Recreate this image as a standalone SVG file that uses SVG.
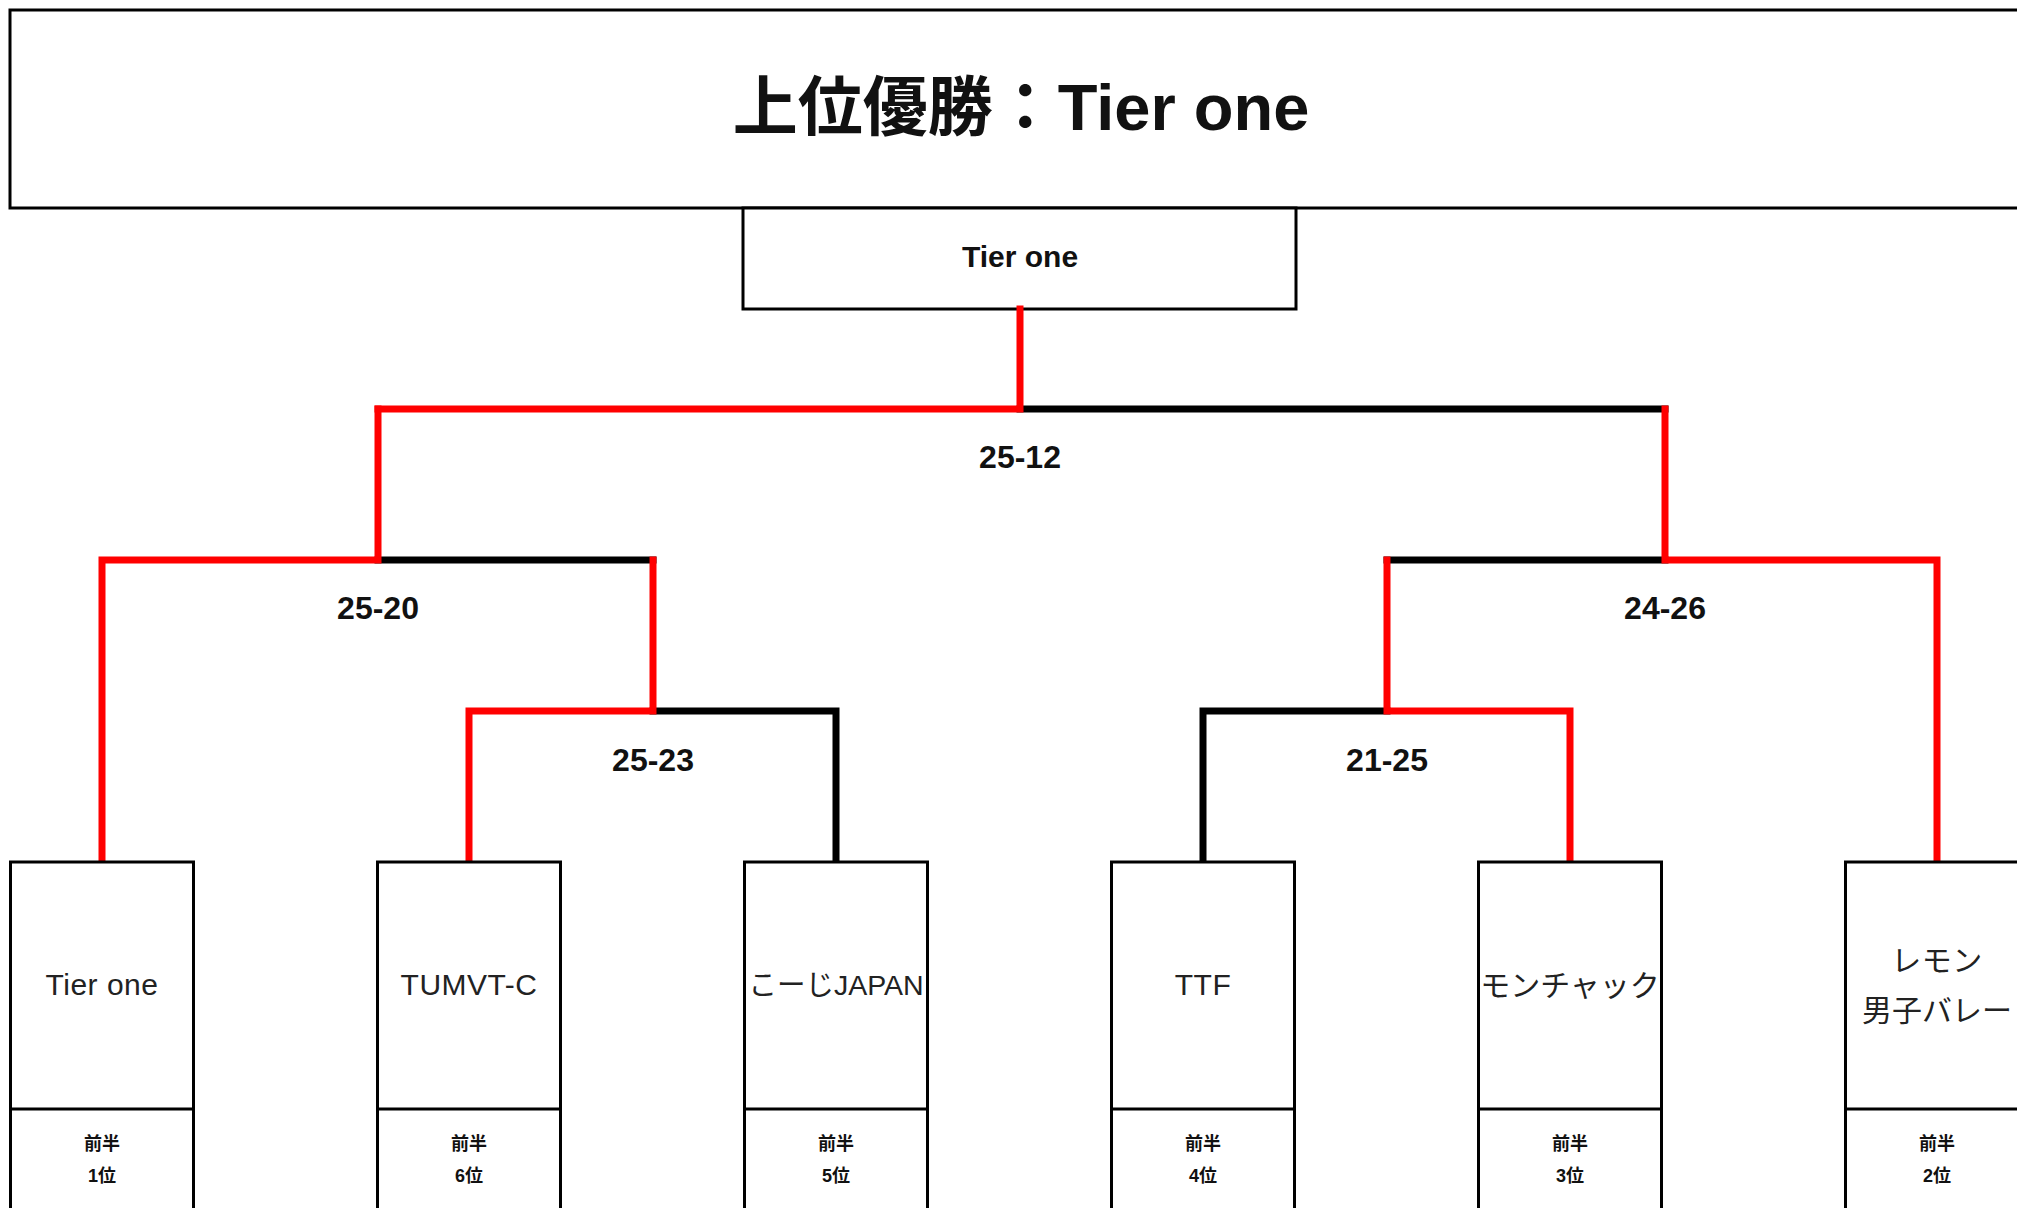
<svg xmlns="http://www.w3.org/2000/svg" width="2017" height="1208" viewBox="0 0 2017 1208">
<style>
.box{fill:#fff;stroke:#000;stroke-width:3}
.t{font-family:"Liberation Sans","Noto Sans CJK JP",sans-serif;text-anchor:middle;fill:#111}
.title{font-size:65px;font-weight:bold}
.win{font-size:30px;font-weight:bold}
.score{font-size:32px;font-weight:bold}
.team{font-size:30px;fill:#222;letter-spacing:0.5px}
.rank{font-size:18px;font-weight:bold}
.r{stroke:#ff0000;stroke-width:7;fill:none;stroke-linecap:square}
.k{stroke:#000;stroke-width:7;fill:none;stroke-linecap:square}
</style>
<rect width="2017" height="1208" fill="#fff"/>
<g id="title">
<rect class="box" x="10" y="10" width="2019" height="198"/>
<text class="t title" x="1021" y="130">上位優勝：Tier one</text>
</g>
<g id="champion">
<rect class="box" x="743" y="208" width="553" height="101"/>
<text class="t win" x="1020" y="267">Tier one</text>
</g>
<g id="connectors">
<path class="k" d="M1020 409H1665"/>
<path class="k" d="M378 560H653"/>
<path class="k" d="M1387 560H1665"/>
<path class="k" d="M653 711H836V862"/>
<path class="k" d="M1387 711H1203V862"/>
<path class="r" d="M1020 309V409H378"/>
<path class="r" d="M378 409V560H102V862"/>
<path class="r" d="M1665 409V560H1937V862"/>
<path class="r" d="M653 560V711H469V862"/>
<path class="r" d="M1387 560V711H1570V862"/>
</g>
<g id="scores">
<text class="t score" x="1020" y="468">25-12</text>
<text class="t score" x="378" y="619">25-20</text>
<text class="t score" x="1665" y="619">24-26</text>
<text class="t score" x="653" y="771">25-23</text>
<text class="t score" x="1387" y="771">21-25</text>
</g>
<g id="team1">
<rect class="box" x="10.5" y="862" width="183" height="360"/>
<line class="box" x1="10.5" y1="1109" x2="193.5" y2="1109"/>
<text class="t team" x="102" y="995">Tier one</text>
<text class="t rank" x="102" y="1150">前半</text>
<text class="t rank" x="102" y="1182">1位</text>
</g>
<g id="team2">
<rect class="box" x="377.5" y="862" width="183" height="360"/>
<line class="box" x1="377.5" y1="1109" x2="560.5" y2="1109"/>
<text class="t team" x="469" y="995">TUMVT-C</text>
<text class="t rank" x="469" y="1150">前半</text>
<text class="t rank" x="469" y="1182">6位</text>
</g>
<g id="team3">
<rect class="box" x="744.5" y="862" width="183" height="360"/>
<line class="box" x1="744.5" y1="1109" x2="927.5" y2="1109"/>
<text class="t team" x="836" y="995" style="font-size:28.5px;letter-spacing:0">こーじJAPAN</text>
<text class="t rank" x="836" y="1150">前半</text>
<text class="t rank" x="836" y="1182">5位</text>
</g>
<g id="team4">
<rect class="box" x="1111.5" y="862" width="183" height="360"/>
<line class="box" x1="1111.5" y1="1109" x2="1294.5" y2="1109"/>
<text class="t team" x="1203" y="995">TTF</text>
<text class="t rank" x="1203" y="1150">前半</text>
<text class="t rank" x="1203" y="1182">4位</text>
</g>
<g id="team5">
<rect class="box" x="1478.5" y="862" width="183" height="360"/>
<line class="box" x1="1478.5" y1="1109" x2="1661.5" y2="1109"/>
<text class="t team" x="1570" y="996" style="letter-spacing:0">モンチャック</text>
<text class="t rank" x="1570" y="1150">前半</text>
<text class="t rank" x="1570" y="1182">3位</text>
</g>
<g id="team6">
<rect class="box" x="1845.5" y="862" width="183" height="360"/>
<line class="box" x1="1845.5" y1="1109" x2="2028.5" y2="1109"/>
<text class="t team" x="1937" y="971">レモン</text>
<text class="t team" x="1937" y="1021" style="letter-spacing:0">男子バレー</text>
<text class="t rank" x="1937" y="1150">前半</text>
<text class="t rank" x="1937" y="1182">2位</text>
</g>
</svg>
